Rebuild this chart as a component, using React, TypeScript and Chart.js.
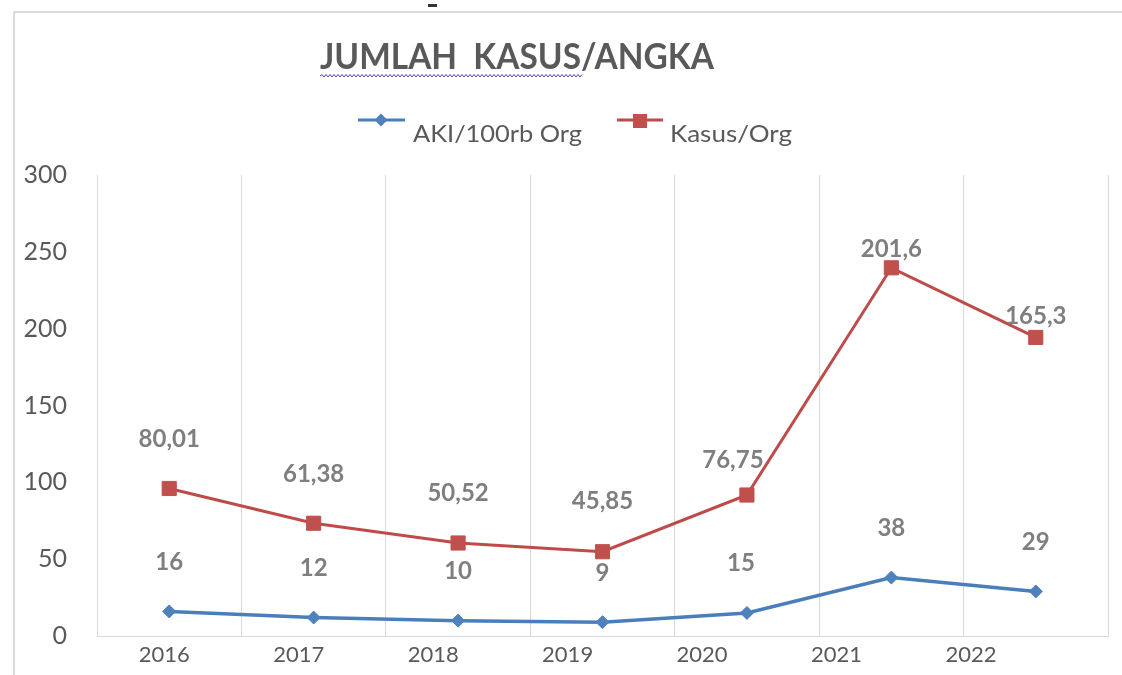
import React, { useEffect, useRef } from 'react';
import { Chart, registerables } from 'chart.js';

Chart.register(...registerables);

// ---------- data ----------
const years = ['2016', '2017', '2018', '2019', '2020', '2021', '2022'];
const akiValues = [16, 12, 10, 9, 15, 38, 29];
const kasusValues = [80.01, 61.38, 50.52, 45.85, 76.75, 201.6, 165.3];
const yTickValues = [0, 50, 100, 150, 200, 250, 300];
const titleText = 'JUMLAH  KASUS/ANGKA';
const seriesNames = ['AKI/100rb Org', 'Kasus/Org'];

// ---------- style ----------
const FONT = 'Lato, "Open Sans", "DejaVu Sans", sans-serif';
const AXIS_TEXT = '#595959';
const LABEL_TEXT = '#7f7f7f';
const BLUE_LINE = '#4a7ebb';
const BLUE_MARK = '#4f81bd';
const RED_LINE = '#be4b48';
const RED_MARK = '#c0504d';
const GRID = '#d9d9d9';

const fmt = (v: number) => String(v).replace('.', ',');

function drawFitted(ctx: CanvasRenderingContext2D, text: string, x: number, baseline: number, font: string, width: number, color: string) {
  ctx.save();
  ctx.font = font;
  ctx.fillStyle = color;
  ctx.textAlign = 'left';
  ctx.textBaseline = 'alphabetic';
  const w = ctx.measureText(text).width;
  ctx.translate(x, baseline);
  ctx.scale(width / w, 1);
  ctx.fillText(text, 0, 0);
  ctx.restore();
}

function diamond(ctx: CanvasRenderingContext2D, x: number, y: number, r: number, color: string) {
  ctx.beginPath();
  ctx.moveTo(x - r, y);
  ctx.lineTo(x, y - r);
  ctx.lineTo(x + r, y);
  ctx.lineTo(x, y + r);
  ctx.closePath();
  ctx.fillStyle = color;
  ctx.fill();
}

const decorPlugin = {
  id: 'decor',
  beforeDraw(chart: any) {
    const { ctx, width, height } = chart;
    ctx.save();
    ctx.fillStyle = '#ffffff';
    ctx.fillRect(0, 0, width, height);
    ctx.strokeStyle = '#d0d0d0';
    ctx.lineWidth = 1.5;
    ctx.beginPath();
    ctx.moveTo(14, height);
    ctx.lineTo(14, 12);
    ctx.lineTo(width, 12);
    ctx.stroke();
    ctx.fillStyle = '#333333';
    ctx.fillRect(428, 4, 9, 3);
    ctx.restore();
  },
  afterDraw(chart: any) {
    const ctx: CanvasRenderingContext2D = chart.ctx;
    // title
    drawFitted(ctx, titleText, 320, 69, `bold 36px ${FONT}`, 394, AXIS_TEXT);
    // spell-check squiggle
    ctx.save();
    ctx.strokeStyle = '#4646c8';
    ctx.lineWidth = 1;
    ctx.beginPath();
    let up = true;
    ctx.moveTo(320, 76);
    for (let x = 322; x <= 582; x += 2) {
      ctx.lineTo(x, up ? 74.5 : 77);
      up = !up;
    }
    ctx.stroke();
    ctx.restore();

    // legend
    ctx.save();
    ctx.lineWidth = 3;
    ctx.strokeStyle = BLUE_LINE;
    ctx.beginPath();
    ctx.moveTo(358, 120);
    ctx.lineTo(405, 120);
    ctx.stroke();
    diamond(ctx, 381, 120, 6.5, BLUE_MARK);
    ctx.strokeStyle = RED_LINE;
    ctx.beginPath();
    ctx.moveTo(617, 120);
    ctx.lineTo(663, 120);
    ctx.stroke();
    ctx.fillStyle = RED_MARK;
    ctx.fillRect(633, 114, 14, 14);
    ctx.restore();
    drawFitted(ctx, seriesNames[0], 413, 142, `24px ${FONT}`, 169, AXIS_TEXT);
    drawFitted(ctx, seriesNames[1], 670, 142, `24px ${FONT}`, 122, AXIS_TEXT);

    // category labels (drawn slightly compressed, as in the reference)
    const xs = chart.scales.x;
    ctx.save();
    ctx.font = `22px ${FONT}`;
    ctx.fillStyle = AXIS_TEXT;
    ctx.textAlign = 'center';
    ctx.textBaseline = 'alphabetic';
    years.forEach((lab, i) => {
      const px = xs.getPixelForValue(i);
      const x = xs.left + (px - xs.left) * 0.931;
      ctx.fillText(lab, x, 662);
    });
    ctx.restore();
  },
};

const valueLabelPlugin = {
  id: 'valueLabels',
  afterDatasetsDraw(chart: any) {
    const ctx: CanvasRenderingContext2D = chart.ctx;
    const kasusLift = [50, 50, 51, 51, 36, 19, 22];
    ctx.save();
    ctx.font = `bold 24px ${FONT}`;
    ctx.fillStyle = LABEL_TEXT;
    ctx.textAlign = 'center';
    ctx.textBaseline = 'alphabetic';
    chart.data.datasets.forEach((ds: any, di: number) => {
      const meta = chart.getDatasetMeta(di);
      meta.data.forEach((pt: any, i: number) => {
        const lift = di === 1 ? kasusLift[i] : 50;
        const dx = di === 1 && i === 4 ? -14 : di === 0 && i === 4 ? -6 : 0;
        ctx.fillText(fmt(ds.data[i]), pt.x + dx, pt.y - lift + 8.5);
      });
    });
    ctx.restore();
  },
};

export default function App() {
  const canvasRef = useRef<HTMLCanvasElement | null>(null);

  useEffect(() => {
    if (!canvasRef.current) return;
    const chart = new Chart(canvasRef.current, {
      type: 'line',
      data: {
        labels: years,
        datasets: [
          {
            label: seriesNames[0],
            data: akiValues,
            borderColor: BLUE_LINE,
            backgroundColor: BLUE_MARK,
            borderWidth: 3.5,
            pointStyle: 'rectRot',
            pointRadius: 6.5,
            pointBackgroundColor: BLUE_MARK,
            pointBorderColor: BLUE_MARK,
            pointBorderWidth: 1,
            tension: 0,
            fill: false,
          },
          {
            label: seriesNames[1],
            data: kasusValues,
            borderColor: RED_LINE,
            backgroundColor: RED_MARK,
            borderWidth: 3,
            pointStyle: 'rect',
            pointRadius: 10,
            pointBackgroundColor: RED_MARK,
            pointBorderColor: RED_MARK,
            pointBorderWidth: 1,
            tension: 0,
            fill: false,
          },
        ],
      },
      options: {
        responsive: false,
        animation: false,
        layout: { padding: { top: 175, right: 14, bottom: 0, left: 0 } },
        plugins: {
          legend: { display: false },
          title: { display: false },
          tooltip: { enabled: false },
        },
        scales: {
          x: {
            type: 'category',
            offset: true,
            grid: { display: true, offset: true, color: GRID, lineWidth: 1, drawTicks: false },
            border: { display: true, color: GRID, width: 1 },
            ticks: { display: false },
            afterFit: (s: any) => {
              s.height = 39;
            },
          },
          y: {
            stacked: true,
            min: yTickValues[0],
            max: yTickValues[yTickValues.length - 1],
            ticks: {
              stepSize: yTickValues[1] - yTickValues[0],
              color: AXIS_TEXT,
              font: { family: FONT, size: 25 },
              padding: 0,
            },
            grid: { display: false, drawTicks: true, tickLength: 30 },
            border: { display: false },
            afterFit: (s: any) => {
              s.width = 97;
            },
          },
        },
      },
      plugins: [decorPlugin, valueLabelPlugin],
    } as any);
    return () => chart.destroy();
  }, []);

  return (
    <div style={{ position: 'absolute', left: 0, top: 0, width: 1122, height: 675, background: '#fff' }}>
      <canvas ref={canvasRef} width={1122} height={675} style={{ display: 'block' }} />
    </div>
  );
}
